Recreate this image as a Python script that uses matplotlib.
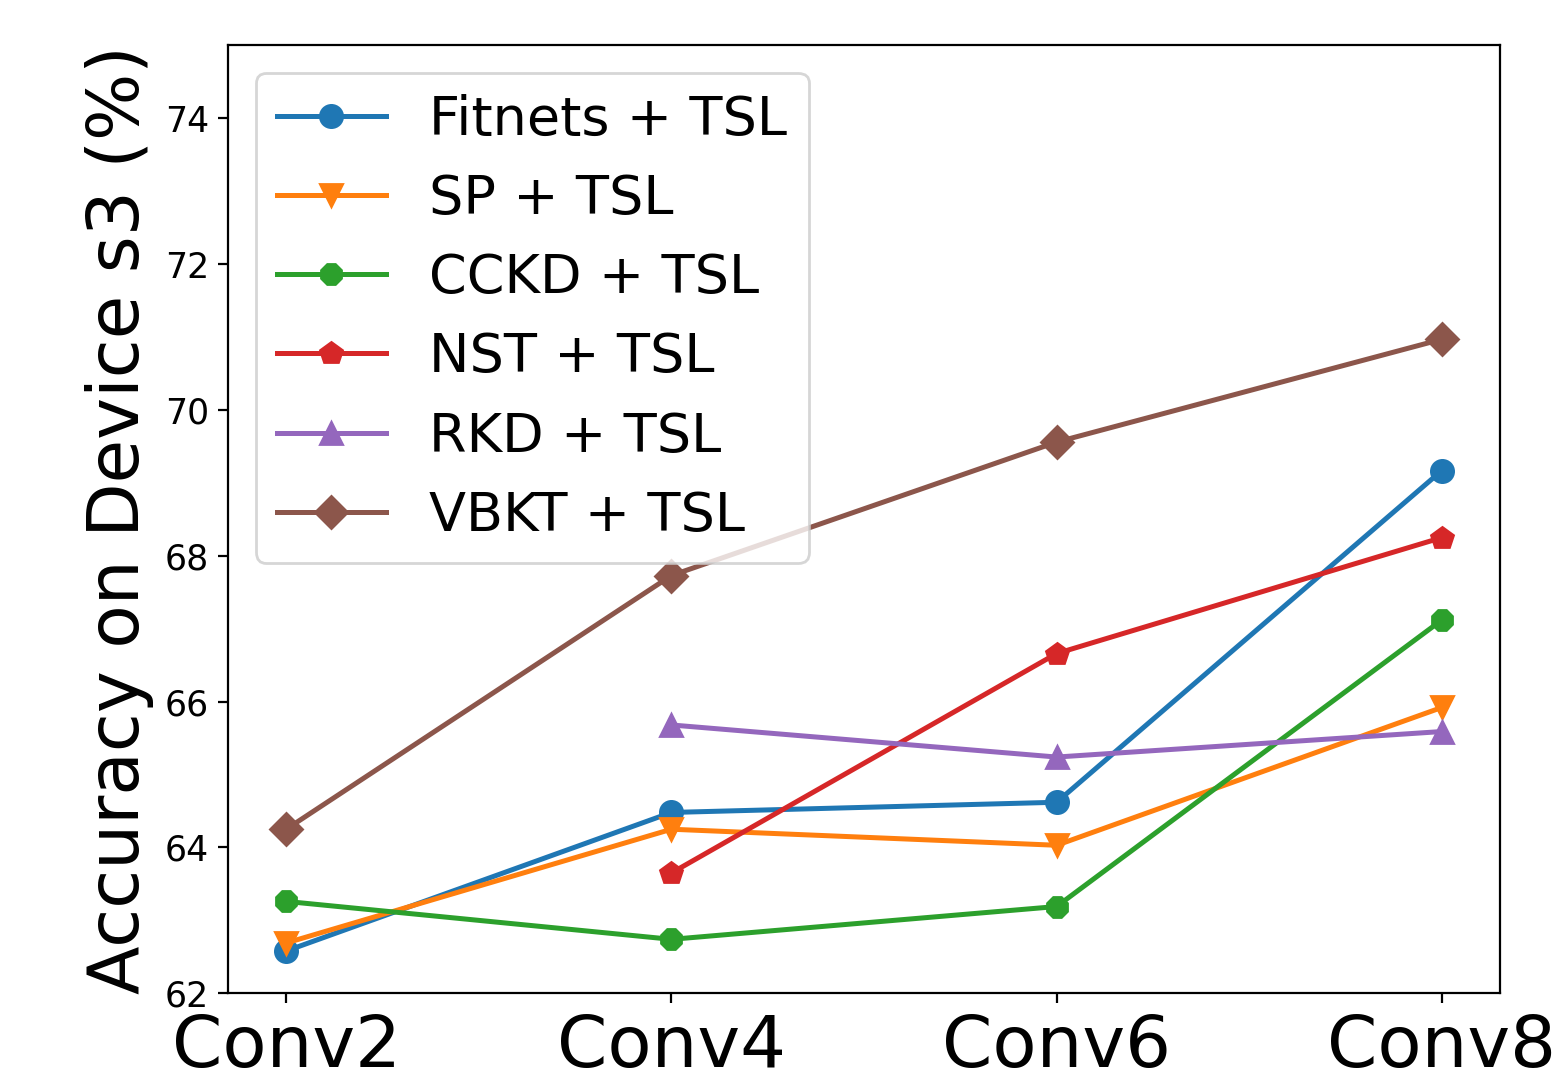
import numpy as np
import matplotlib
matplotlib.use('Agg')
import matplotlib.pyplot as plt

models = ['Conv2', 'Conv4', 'Conv6', 'Conv8']
fitnets = [62.58, 64.48, 64.62, 69.17]
sp = [62.69, 64.25, 64.03, 65.92]
cckd = [63.26, 62.74, 63.19, 67.12]
nst = [np.nan, 63.65, 66.66, 68.25]
rkd = [np.nan, 65.68, 65.24, 65.59]
vbkt = [64.25, 67.73, 69.56, 70.97]

labels = ['Fitnets + TSL', 'SP + TSL', 'CCKD + TSL', 'NST + TSL', 'RKD + TSL', 'VBKT + TSL']
series = [fitnets, sp, cckd, nst, rkd, vbkt]
marks = ['o', 'v', '8', 'p', '^', 'D']

fig = plt.figure(figsize=(7.77, 5.41), dpi=200)
ax = fig.add_axes([0.147, 0.082, 0.818, 0.876])
x = np.arange(len(models))
for s, lab, m in zip(series, labels, marks):
    ax.plot(x, s, marker=m, markersize=8, linewidth=1.8, label=lab)

ax.set_ylim(62, 75)
ax.set_xlim(-0.15, 3.15)
ax.set_yticks([62, 64, 66, 68, 70, 72, 74])
ax.set_xticks(x)
ax.set_xticklabels(models, fontsize=26)
ax.tick_params(axis='y', labelsize=12.5)
ax.set_ylabel('Accuracy on Device s3 (%)', fontsize=25.5, labelpad=4)
ax.legend(fontsize=19.5, loc='upper left')
fig.savefig('out.png', dpi=200)
